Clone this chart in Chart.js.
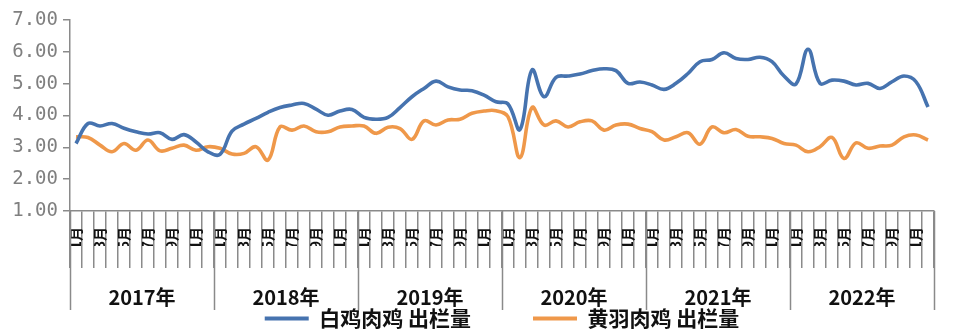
<!DOCTYPE html>
<html><head><meta charset="utf-8">
<script src="https://cdn.jsdelivr.net/npm/chart.js@4.4.1/dist/chart.umd.min.js"></script>
<style>html,body{margin:0;padding:0;background:#fff;} #wrap{width:953px;height:334px;position:relative;}</style>
</head><body><div id="wrap"><canvas id="c" width="953" height="334"></canvas></div>
<script>
const years = ['2017年','2018年','2019年','2020年','2021年','2022年'];
const months = ['1月','2月','3月','4月','5月','6月','7月','8月','9月','10月','11月','12月'];
const yTicks = [1, 2, 3, 4, 5, 6, 7];
const whiteBroiler = [
  3.12, 3.75, 3.67, 3.75, 3.60, 3.49, 3.42, 3.46, 3.25, 3.40, 3.17, 2.86,
  2.78, 3.51, 3.73, 3.91, 4.10, 4.25, 4.33, 4.38, 4.20, 4.01, 4.14, 4.19,
  3.94, 3.88, 3.94, 4.25, 4.59, 4.85, 5.08, 4.90, 4.80, 4.78, 4.64, 4.43,
  4.36, 3.56, 5.43, 4.59, 5.20, 5.24, 5.30, 5.41, 5.47, 5.41, 5.01, 5.05,
  4.96, 4.82, 5.01, 5.32, 5.69, 5.76, 5.97, 5.79, 5.76, 5.83, 5.69, 5.24,
  4.99, 6.08, 5.01, 5.11, 5.08, 4.96, 5.01, 4.85, 5.06, 5.24, 5.06, 4.27
];
const yellowBroiler = [
  3.33, 3.31, 3.07, 2.86, 3.12, 2.91, 3.23, 2.89, 2.97, 3.07, 2.91, 3.02,
  2.97, 2.79, 2.81, 3.02, 2.60, 3.64, 3.54, 3.67, 3.49, 3.49, 3.64, 3.67,
  3.67, 3.44, 3.63, 3.59, 3.25, 3.83, 3.70, 3.86, 3.88, 4.07, 4.14, 4.15,
  3.96, 2.68, 4.25, 3.70, 3.83, 3.64, 3.80, 3.83, 3.54, 3.70, 3.73, 3.59,
  3.49, 3.23, 3.33, 3.46, 3.10, 3.64, 3.46, 3.56, 3.35, 3.33, 3.28, 3.12,
  3.07, 2.86, 3.02, 3.31, 2.65, 3.14, 2.97, 3.04, 3.07, 3.33, 3.39, 3.23
];
const seriesNames = ['白鸡肉鸡 出栏量', '黄羽肉鸡 出栏量'];

const categories = [];
years.forEach(y => months.forEach(m => categories.push(y + m)));

const AXIS = '#8a8a8a';
const BLUE = '#4673af';
const ORANGE = '#ef984a';
const LEGEND_PAD = 62;

const yearPlugin = {
  id: 'yearGroups',
  afterDraw(chart) {
    const xs = chart.scales.x;
    const ctx = chart.ctx;
    const top = chart.chartArea.bottom;
    const half = (xs.getPixelForValue(1) - xs.getPixelForValue(0)) / 2;
    ctx.save();
    ctx.strokeStyle = AXIS;
    ctx.lineWidth = 1.5;
    ctx.fillStyle = '#111';
    ctx.font = 'bold 20px "Noto Sans CJK SC", sans-serif';
    ctx.textAlign = 'center';
    ctx.textBaseline = 'middle';
    years.forEach((yr, i) => {
      const x0 = xs.getPixelForValue(i * 12) - half;
      const x1 = xs.getPixelForValue(i * 12 + 11) + half;
      ctx.beginPath();
      ctx.moveTo(Math.round(x0) + 0.5, top);
      ctx.lineTo(Math.round(x0) + 0.5, top + 99);
      if (i === years.length - 1) {
        ctx.moveTo(Math.round(x1) + 0.5, top);
        ctx.lineTo(Math.round(x1) + 0.5, top + 99);
      }
      ctx.stroke();
      ctx.fillText(yr, (x0 + x1) / 2, top + 86);
    });
    ctx.restore();
  }
};

new Chart(document.getElementById('c'), {
  type: 'line',
  data: {
    labels: categories,
    datasets: [
      { label: seriesNames[0], data: whiteBroiler, borderColor: BLUE, backgroundColor: BLUE,
        borderWidth: 3.6, pointRadius: 0, tension: 0.4, fill: false },
      { label: seriesNames[1], data: yellowBroiler, borderColor: ORANGE, backgroundColor: ORANGE,
        borderWidth: 3.6, pointRadius: 0, tension: 0.4, fill: false }
    ]
  },
  options: {
    responsive: false,
    animation: false,
    devicePixelRatio: 1,
    layout: { padding: { left: 0, right: 19, top: 20, bottom: -5 } },
    plugins: {
      tooltip: { enabled: false },
      legend: {
        position: 'bottom',
        fullSize: false,
        labels: {
          boxWidth: 44, boxHeight: 4, padding: LEGEND_PAD, color: '#111',
          font: { family: '"Noto Sans CJK SC", sans-serif', size: 21, weight: 'bold' },
          generateLabels(chart) {
            const items = Chart.defaults.plugins.legend.labels.generateLabels(chart);
            items.forEach(it => { it.lineWidth = 0; it.fillStyle = it.strokeStyle; });
            return items;
          }
        }
      }
    },
    scales: {
      x: {
        type: 'category',
        offset: true,
        grid: { display: true, offset: true, drawOnChartArea: false, drawTicks: true, tickLength: 57, color: AXIS, lineWidth: 1.5 },
        border: { display: true, color: AXIS, width: 1.5 },
        ticks: {
          autoSkip: false, minRotation: 90, maxRotation: 90, padding: -41, color: '#111',
          font: { family: '"Noto Sans CJK SC", sans-serif', size: 14, weight: 'bold' },
          callback(v, i) { const m = i % 12; return m % 2 === 0 ? months[m] : ''; }
        },
        afterFit(s) { s.height = 339 - 31 - LEGEND_PAD - 211; }
      },
      y: {
        min: yTicks[0], max: yTicks[yTicks.length - 1],
        afterBuildTicks(s) { s.ticks = yTicks.map(v => ({ value: v })); },
        grid: { display: true, drawOnChartArea: false, drawTicks: true, tickLength: 7, color: AXIS, lineWidth: 1.5 },
        border: { display: true, color: AXIS, width: 1.5 },
        ticks: {
          padding: 5, color: '#7f7f7f',
          font: { family: '"DejaVu Sans Mono", monospace', size: 19 },
          callback(v) { return Number(v).toFixed(2); }
        },
        afterFit(s) { s.width = 70; }
      }
    }
  },
  plugins: [yearPlugin]
});
</script></body></html>
